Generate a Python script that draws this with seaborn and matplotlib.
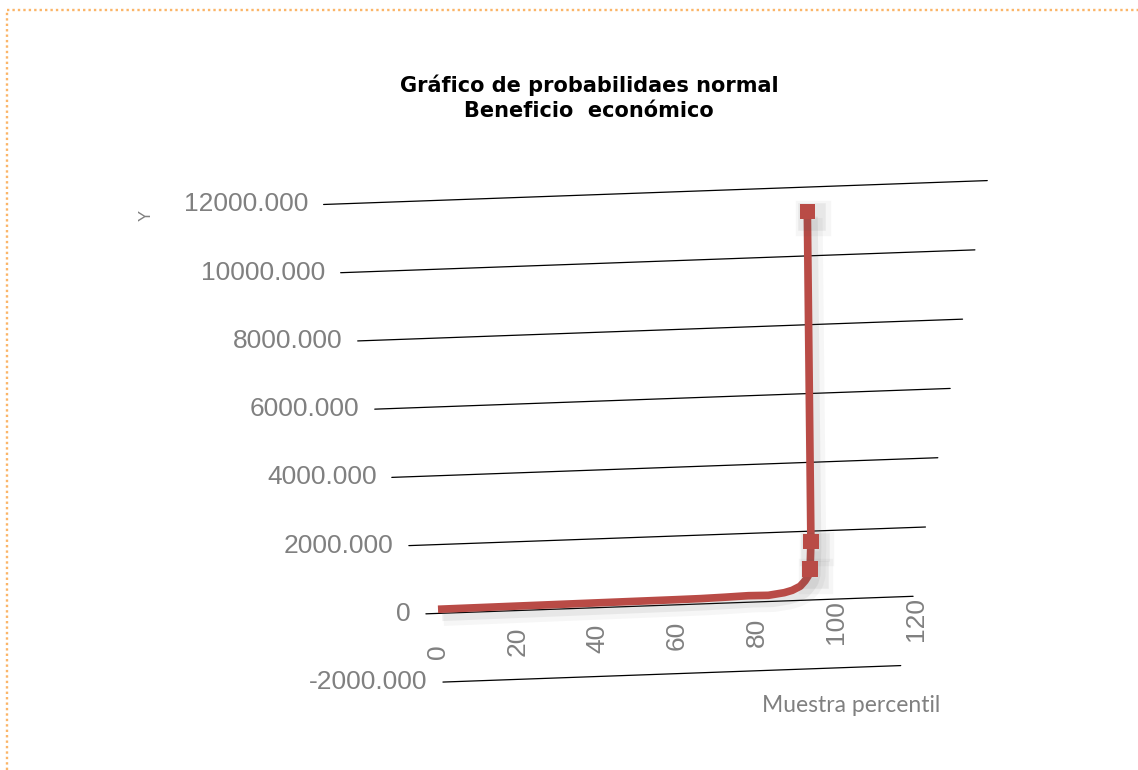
import math

import matplotlib
matplotlib.use("Agg")
import matplotlib.pyplot as plt
import matplotlib.transforms as mtransforms
import matplotlib.patheffects as pe
from matplotlib.lines import Line2D
import pandas as pd
import seaborn as sns

# valores
percentil = [0, 10, 20, 30, 40, 50, 60, 66, 72, 78, 83, 87, 89, 91, 92.2, 93, 93.5, 93.7, 92.8]
beneficio = [120, 125, 130, 135, 140, 145, 150, 155, 170, 190, 180, 240, 300, 410, 560, 700, 900, 1700, 11300]
y_ticks = [-2000, 0, 2000, 4000, 6000, 8000, 10000, 12000]
x_ticks = [0, 20, 40, 60, 80, 100, 120]

titulo = "Gráfico de probabilidaes normal\nBeneficio  económico"
x_titulo = "Muestra percentil"
y_titulo = "Y"

ROJO = "#b94b46"
GRIS = "#808080"
NARANJA = "#fbb568"

sns.set_theme(style="white")
plt.rcParams["font.family"] = ["Liberation Sans", "DejaVu Sans"]

fig = plt.figure(figsize=(11.38, 7.70), dpi=100)
ax = fig.add_axes([0, 0, 1, 1])
xlim = (-110.05, 175.88)
ylim = (-4549.7, 17821)
ax.set_xlim(xlim)
ax.set_ylim(ylim)
ax.set_axis_off()

# inclinacion ligera del plano (efecto perspectiva)
px0, py0 = ax.transData.transform((0, 0))
inclina = (mtransforms.Affine2D()
           .translate(-px0, -py0)
           .skew(0, math.atan(0.036))
           .translate(px0, py0))
trans = ax.transData + inclina


def extremo_izq(v):
    return -3.04 - 0.002142 * v


def extremo_der(v):
    return 119.37 + 0.001553 * v


for v in y_ticks:
    ax.plot([extremo_izq(v), extremo_der(v)], [v, v], color="black", lw=0.9,
            transform=trans, zorder=1)
    etiqueta = "0" if v == 0 else f"{v:.3f}"
    ax.annotate(etiqueta, (extremo_izq(v), v), xycoords=trans, xytext=(-11, 0),
                textcoords="offset points", ha="right", va="center",
                fontsize=19, color=GRIS)

for t in x_ticks:
    ax.annotate(str(t), (t, 0), xycoords=trans, xytext=(0, -32.5),
                textcoords="offset points", rotation=90, ha="center", va="bottom",
                fontsize=19, color=GRIS)

df = pd.DataFrame({"percentil": percentil, "beneficio": beneficio})
n = len(df)
sombra = [
    pe.SimpleLineShadow(offset=(4, -5), shadow_color="#555555", alpha=0.05, linewidth=14),
    pe.SimpleLineShadow(offset=(3, -4), shadow_color="#555555", alpha=0.09, linewidth=9),
    pe.Normal(),
]
sns.lineplot(data=df, x="percentil", y="beneficio", ax=ax, sort=False, estimator=None,
             color=ROJO, linewidth=5.5, marker="s", markersize=11,
             markevery=[n - 3, n - 2, n - 1], markeredgewidth=0,
             solid_capstyle="butt", solid_joinstyle="round",
             transform=trans, path_effects=sombra, zorder=3)
ax.set_xlim(xlim)
ax.set_ylim(ylim)
ax.set_axis_off()

fig.text(589 / 1138, 1 - 98 / 770, titulo, ha="center", va="center", fontsize=15,
         fontweight="bold", family="DejaVu Sans", linespacing=1.3, color="black")
fig.text(851 / 1138, 1 - 706 / 770, x_titulo, ha="center", va="center", fontsize=16.5,
         family="Lato", color=GRIS)
fig.text(146 / 1138, 1 - 215 / 770, y_titulo, ha="center", va="center", fontsize=12,
         rotation=90, color=GRIS)

# borde punteado naranja (arriba e izquierda)
fig.add_artist(Line2D([7 / 1138, 1], [1 - 10 / 770, 1 - 10 / 770], transform=fig.transFigure,
                      color=NARANJA, lw=1.7, linestyle=(0, (1, 1.3))))
fig.add_artist(Line2D([7 / 1138, 7 / 1138], [0, 1 - 10 / 770], transform=fig.transFigure,
                      color=NARANJA, lw=1.7, linestyle=(0, (1, 1.3))))

fig.savefig("out.png", dpi=100)
